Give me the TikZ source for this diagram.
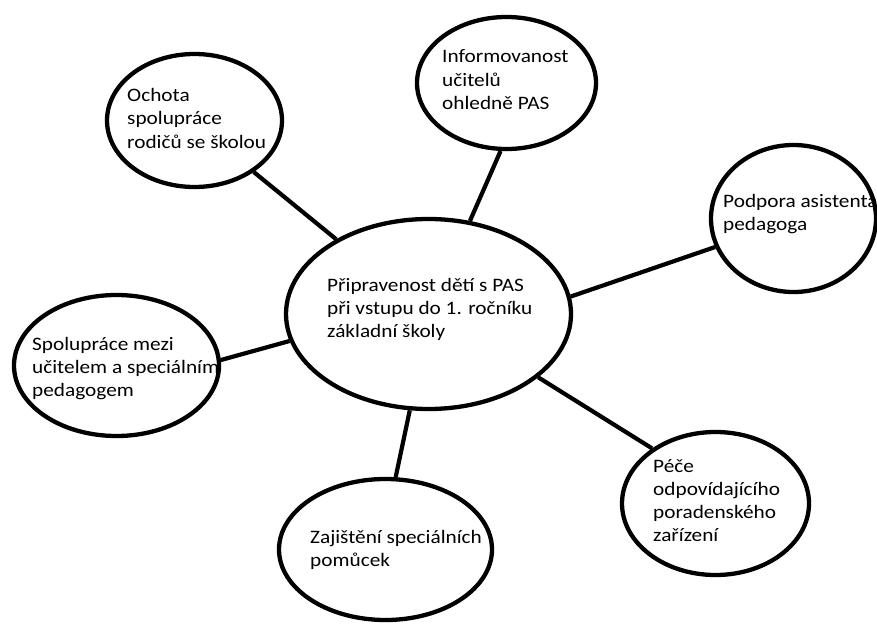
\documentclass[tikz,border=0pt]{standalone}
\usepackage{fontspec}
\setmainfont{Carlito}[FakeStretch=1.12]
\usetikzlibrary{shapes.geometric}

\begin{document}
\begin{tikzpicture}[x=1pt, y=-1pt,
        bubble/.style = {ellipse, draw=black, line width=4.3pt, inner sep=0pt},
        bubbletext/.style = {anchor=base west, align=left, inner sep=0pt, font=\fontsize{19}{23.3}\selectfont},
        link/.style = {draw=black, line width=4.2pt}
    ]
    \useasboundingbox (0,0) rectangle (877,623);

    \node [bubble, minimum width=285pt, minimum height=190pt] (center) at (428.5,314) {};
    \node [bubbletext] (center-text) at (327,337.6) {Připravenost dětí s PAS\\při vstupu do 1. ročníku\\základní školy};

    \node [bubble, minimum width=175pt, minimum height=133pt] (ochota) at (194.5,120.5) {};
    \node [bubbletext] (ochota-text) at (127,148.1) {Ochota\\spolupráce\\rodičů se školou};

    \node [bubble, minimum width=179pt, minimum height=132pt] (info) at (506.5,83) {};
    \node [bubbletext] (info-text) at (442,109.6) {Informovanost\\učitelů\\ohledně PAS};

    \node [bubble, minimum width=165pt, minimum height=147pt] (asistent) at (793.5,218.5) {};
    \node [bubbletext] (asistent-text) at (723,230.3) {Podpora asistenta\\pedagoga};

    \node [bubble, minimum width=205pt, minimum height=141pt] (spoluprace) at (116.5,365.5) {};
    \node [bubbletext] (spoluprace-text) at (32,396.6) {Spolupráce mezi\\učitelem a speciálním\\pedagogem};

    \node [bubble, minimum width=213pt, minimum height=141pt] (pomucky) at (385.5,549.5) {};
    \node [bubbletext] (pomucky-text) at (310,566.3) {Zajištění speciálních\\pomůcek};

    \node [bubble, minimum width=187pt, minimum height=143pt] (pece) at (715.5,503.5) {};
    \node [bubbletext] (pece-text) at (653,541.9) {Péče\\odpovídajícího\\poradenského\\zařízení};

    \draw [link] (center.141.9) -- (ochota.319.2);
    \draw [link] (center.66.2) -- (info.265.3);
    \draw [link] (center.7.2) -- (asistent.200.2);
    \draw [link] (center.191.3) -- (spoluprace.3);
    \draw [link] (center.259.1) -- (pomucky.82.4);
    \draw [link] (center.330.9) -- (pece.139.7);

\end{tikzpicture}
\end{document}
